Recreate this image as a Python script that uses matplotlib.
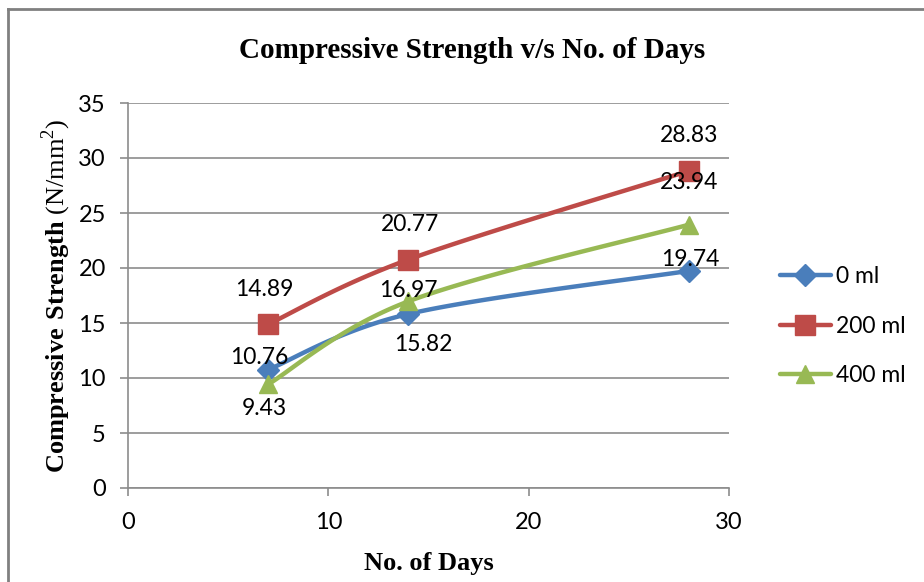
import numpy as np
import matplotlib
matplotlib.use("Agg")
import matplotlib.pyplot as plt
from matplotlib.lines import Line2D

# data
days = [7, 14, 28]
series_names = ["0 ml", "200 ml", "400 ml"]
strength_0 = [10.76, 15.82, 19.74]
strength_200 = [14.89, 20.77, 28.83]
strength_400 = [9.43, 16.97, 23.94]

colors = ["#4A7EBB", "#BE4B48", "#98B954"]
markers = ["D", "s", "^"]
marker_sizes = [11, 14, 13]
# label offsets in pixels (dx, dy) relative to each point
label_offsets = [
    [(-9, 12), (15, -31), (1, 11)],
    [(-4, 35), (2, 35), (0, 35)],
    [(-4, -24), (0, 11), (0, 42)],
]

tick_font = "Lato"
serif_font = "Liberation Serif"

plt.rcParams["mathtext.fontset"] = "custom"
plt.rcParams["mathtext.rm"] = serif_font
plt.rcParams["mathtext.bf"] = serif_font + ":bold"


def smooth(x, y, n=40):
    """Excel-style smoothed line (Catmull-Rom through the points)."""
    x = np.asarray(x, float)
    y = np.asarray(y, float)
    px = np.concatenate([[x[0]], x, [x[-1]]])
    py = np.concatenate([[y[0]], y, [y[-1]]])
    xs, ys = [], []
    for i in range(1, len(px) - 2):
        p0, p1, p2, p3 = (np.array([px[j], py[j]]) for j in range(i - 1, i + 3))
        c1 = p1 + (p2 - p0) / 6
        c2 = p2 - (p3 - p1) / 6
        t = np.linspace(0, 1, n)[:, None]
        b = ((1 - t) ** 3) * p1 + 3 * ((1 - t) ** 2) * t * c1 + 3 * (1 - t) * t ** 2 * c2 + t ** 3 * p2
        xs.append(b[:, 0])
        ys.append(b[:, 1])
    return np.concatenate(xs), np.concatenate(ys)


fig = plt.figure(figsize=(9.24, 5.82), dpi=100)
ax = fig.add_axes([128 / 924, 1 - 488 / 582, 601 / 924, 385 / 582])

all_series = [strength_0, strength_200, strength_400]
handles = []
for vals, name, c, m, ms, offs in zip(all_series, series_names, colors, markers, marker_sizes, label_offsets):
    sx, sy = smooth(days, vals)
    ax.plot(sx, sy, color=c, lw=3.2, solid_capstyle="round", zorder=3)
    ax.plot(days, vals, linestyle="none", marker=m, ms=ms, color=c, zorder=4)
    handles.append(Line2D([0], [0], color=c, lw=3.2, marker=m, ms=ms, solid_capstyle="round"))
    for d, v, (dx, dy) in zip(days, vals, offs):
        ax.annotate(f"{v:.2f}", (d, v), xytext=(dx, dy), textcoords="offset pixels",
                    ha="center", va="center", fontsize=16.5, family=tick_font, zorder=5)

ax.set_xlim(0, 30)
ax.set_ylim(0, 35)
ax.set_xticks([0, 10, 20, 30])
ax.set_yticks(range(0, 36, 5))
ax.grid(axis="y", color="#8C8C8C", lw=1.2)
ax.set_axisbelow(True)
for s in ["top", "right"]:
    ax.spines[s].set_visible(False)
for s in ["left", "bottom"]:
    ax.spines[s].set_color("#8C8C8C")
    ax.spines[s].set_linewidth(1.2)
ax.tick_params(axis="both", direction="out", length=6, width=1.2, color="#8C8C8C",
               labelsize=17)
ax.tick_params(axis="y", pad=10)
ax.tick_params(axis="x", pad=11)
for lab in ax.get_xticklabels() + ax.get_yticklabels():
    lab.set_family(tick_font)

ax.set_xlabel("No. of Days", fontsize=19, fontweight="bold", family=serif_font, labelpad=14)
ax.set_ylabel(r"$\mathbf{Compressive\ Strength}$ (N/mm$^2$)", fontsize=19,
              family=serif_font, labelpad=4)
fig.text(472 / 924, 1 - 50 / 582, "Compressive Strength v/s No. of Days", fontsize=21,
         fontweight="bold", family=serif_font, ha="center", va="center")

leg = ax.legend(handles, series_names, loc="center left", bbox_to_anchor=(1.05, 0.42),
                frameon=False, prop={"family": tick_font, "size": 16.5}, handlelength=2.25,
                labelspacing=1.25, handletextpad=0.2)

# outer chart border
fig.add_artist(Line2D([8 / 924, 8 / 924], [0, 1 - 8.5 / 582], color="#808080", lw=2,
                      transform=fig.transFigure))
fig.add_artist(Line2D([8 / 924, 1], [1 - 8.5 / 582, 1 - 8.5 / 582], color="#808080", lw=2,
                      transform=fig.transFigure))

fig.savefig("out.png", dpi=100)
